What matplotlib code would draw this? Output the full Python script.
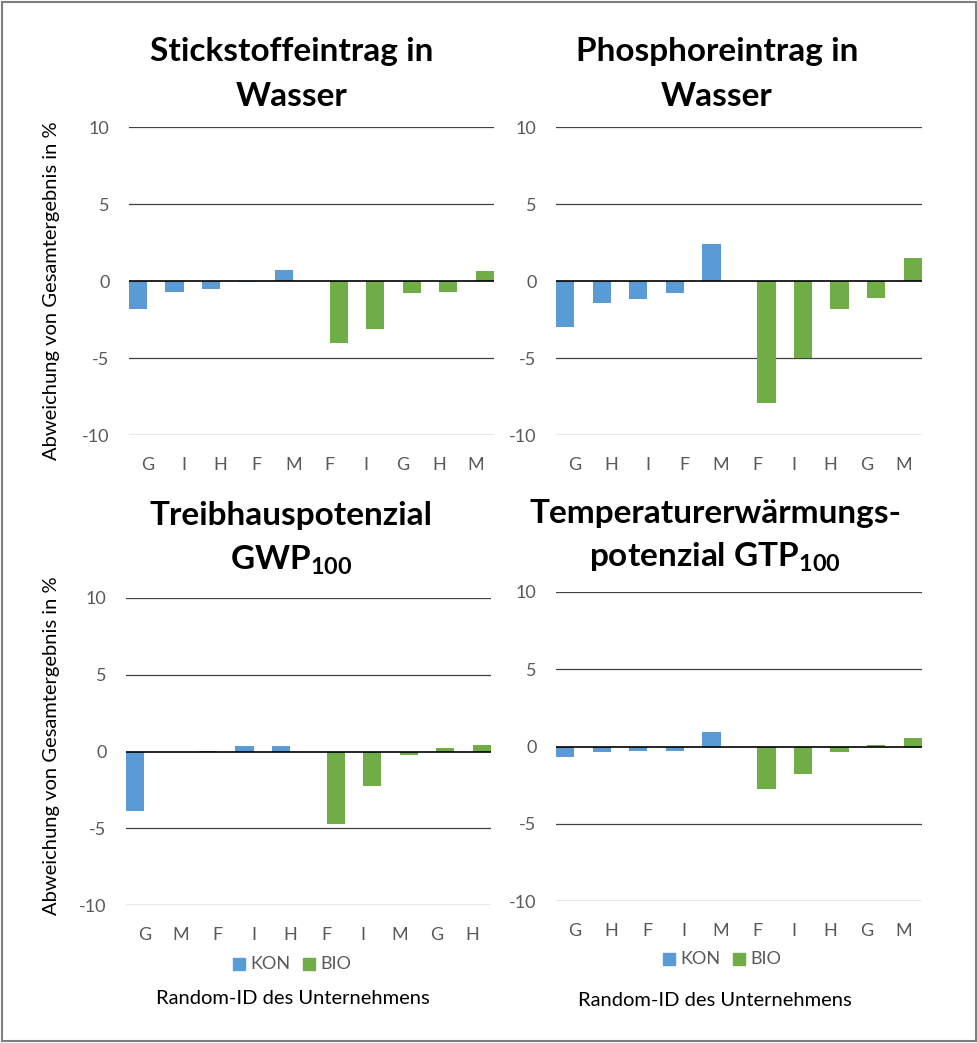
import numpy as np
import matplotlib
matplotlib.use("Agg")
import matplotlib.pyplot as plt
import matplotlib.patches as patches

plt.rcParams['font.family'] = ['Lato', 'DejaVu Sans']
plt.rcParams['mathtext.fontset'] = 'custom'
plt.rcParams['mathtext.rm'] = 'Lato'
plt.rcParams['mathtext.bf'] = 'Lato:bold'
plt.rcParams['axes.unicode_minus'] = False

# Daten (Abweichung vom Gesamtergebnis in %)
n_labels = ["G", "I", "H", "F", "M", "F", "I", "G", "H", "M"]
n_kon = [-1.8, -0.7, -0.5, -0.05, 0.7]
n_bio = [-4.0, -3.1, -0.8, -0.7, 0.65]

p_labels = ["G", "H", "I", "F", "M", "F", "I", "H", "G", "M"]
p_kon = [-3.0, -1.4, -1.2, -0.75, 2.4]
p_bio = [-7.9, -5.0, -1.8, -1.1, 1.5]

gwp_labels = ["G", "M", "F", "I", "H", "F", "I", "M", "G", "H"]
gwp_kon = [-3.85, -0.02, 0.05, 0.35, 0.35]
gwp_bio = [-4.7, -2.25, -0.2, 0.2, 0.45]

gtp_labels = ["G", "H", "F", "I", "M", "F", "I", "H", "G", "M"]
gtp_kon = [-0.65, -0.33, -0.28, -0.26, 0.95]
gtp_bio = [-2.75, -1.8, -0.34, 0.08, 0.52]

KON_COLOR = "#5B9BD5"
BIO_COLOR = "#70AD47"
TICK_COLOR = "#595959"

W, H = 978, 1043
fig = plt.figure(figsize=(W / 100, H / 100), dpi=100)

# Rahmen
fig.patches.append(patches.Rectangle((2 / W, 2 / H), (W - 4) / W, (H - 4) / H,
                                     transform=fig.transFigure, fill=False,
                                     edgecolor="#7f7f7f", linewidth=1.5))


def px_axes(x0, y0, x1, y1):
    return fig.add_axes([x0 / W, 1 - y1 / H, (x1 - x0) / W, (y1 - y0) / H])


def draw_panel(ax, labels, kon, bio, ylabel_pos=None):
    x = np.arange(len(labels))
    ax.bar(x[:len(kon)] - 0.25, kon, width=0.5, color=KON_COLOR, zorder=3)
    ax.bar(x[len(kon):] + 0.25, bio, width=0.5, color=BIO_COLOR, zorder=3)
    ax.set_xlim(-0.5, len(labels) - 0.5)
    ax.set_ylim(-10, 10)
    for v in [-10, -5, 5, 10]:
        ax.axhline(v, color="#404040", linewidth=0.9, zorder=1)
    ax.axhline(0, color="black", linewidth=1.2, zorder=4)
    for s in ax.spines.values():
        s.set_visible(False)
    ax.set_yticks([-10, -5, 0, 5, 10])
    ax.set_xticks(x)
    ax.set_xticklabels(labels)
    ax.tick_params(axis="both", length=0, labelsize=13, labelcolor=TICK_COLOR)
    ax.tick_params(axis="x", pad=16)
    ax.tick_params(axis="y", pad=14)
    ax.patch.set_alpha(0)
    if ylabel_pos is not None:
        ax.set_ylabel("Abweichung von Gesamtergebnis in %", fontsize=14.5)
        ax.yaxis.set_label_coords(*ylabel_pos)


def title(cx, y1, line1, line2):
    fig.text(cx / W, 1 - y1 / H, line1, ha="center", va="center", fontsize=24, fontweight="bold")
    fig.text(cx / W, 1 - (y1 + 44) / H, line2, ha="center", va="center", fontsize=24, fontweight="bold")


def legend(x0, y):
    for dx, lab, col in [(0, "KON", KON_COLOR), (70, "BIO", BIO_COLOR)]:
        fig.patches.append(patches.Rectangle(((x0 + dx) / W, 1 - (y + 6) / H), 12 / W, 12 / H,
                                             transform=fig.transFigure, color=col))
        fig.text((x0 + dx + 17) / W, 1 - y / H, lab, ha="left", va="center",
                 fontsize=13, color=TICK_COLOR)


ax1 = px_axes(129, 127, 494, 435)
draw_panel(ax1, n_labels, n_kon, n_bio, ylabel_pos=((60 - 129) / 365, 0.47))
title(292, 52, "Stickstoffeintrag in", "Wasser")

ax2 = px_axes(556, 127, 922, 435)
draw_panel(ax2, p_labels, p_kon, p_bio)
title(717, 52, "Phosphoreintrag in", "Wasser")

ax3 = px_axes(126, 598, 491, 905)
draw_panel(ax3, gwp_labels, gwp_kon, gwp_bio, ylabel_pos=((60 - 126) / 365, 0.52))
title(291, 516, "Treibhauspotenzial", r"GWP$_\mathbf{100}$")

ax4 = px_axes(556, 592, 922, 901)
draw_panel(ax4, gtp_labels, gtp_kon, gtp_bio)
title(715, 513, "Temperaturerwärmungs-", r"potenzial GTP$_\mathbf{100}$")

legend(233, 964)
legend(663, 959)
fig.text(293 / W, 1 - 998 / H, "Random-ID des Unternehmens", ha="center", va="center", fontsize=14.5)
fig.text(715 / W, 1 - 1000 / H, "Random-ID des Unternehmens", ha="center", va="center", fontsize=14.5)

fig.savefig("out.png", dpi=100)
